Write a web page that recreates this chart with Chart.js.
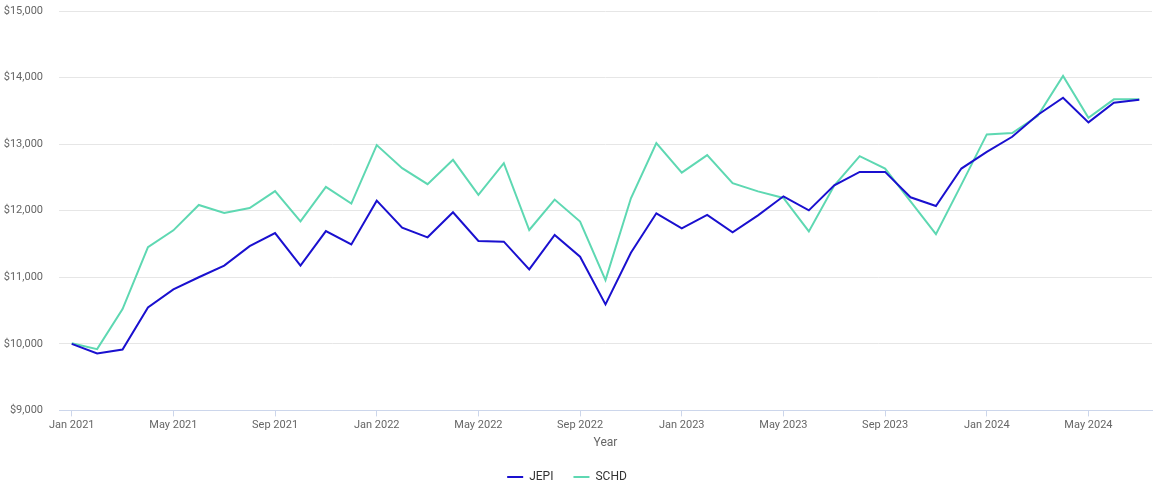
<!DOCTYPE html>
<html>
<head>
<meta charset="utf-8">
<script src="https://cdn.jsdelivr.net/npm/chart.js@4.4.1/dist/chart.umd.min.js"></script>
<style>
html,body{margin:0;padding:0;background:#fff;}
#wrap{width:1164px;height:493px;position:relative;}
</style>
</head>
<body>
<div id="wrap"><canvas id="c"></canvas></div>
<script>
const months = [
  "Jan 2021","Feb 2021","Mar 2021","Apr 2021","May 2021","Jun 2021","Jul 2021","Aug 2021","Sep 2021","Oct 2021","Nov 2021","Dec 2021",
  "Jan 2022","Feb 2022","Mar 2022","Apr 2022","May 2022","Jun 2022","Jul 2022","Aug 2022","Sep 2022","Oct 2022","Nov 2022","Dec 2022",
  "Jan 2023","Feb 2023","Mar 2023","Apr 2023","May 2023","Jun 2023","Jul 2023","Aug 2023","Sep 2023","Oct 2023","Nov 2023","Dec 2023",
  "Jan 2024","Feb 2024","Mar 2024","Apr 2024","May 2024","Jun 2024","Jul 2024"
];
const jepi = [
  10000, 9854, 9915, 10547, 10819, 11000, 11176, 11468, 11664, 11176, 11694, 11493,
  12151, 11746, 11600, 11976, 11545, 11535, 11118, 11635, 11309, 10592, 11369, 11961,
  11736, 11936, 11675, 11930, 12216, 12005, 12382, 12583, 12583, 12201, 12070, 12633,
  12884, 13111, 13437, 13698, 13327, 13623, 13668
];
const schd = [
  10010, 9920, 10523, 11453, 11705, 12086, 11965, 12041, 12293, 11840, 12357, 12107,
  12986, 12639, 12398, 12764, 12237, 12714, 11710, 12167, 11836, 10958, 12187, 13015,
  12573, 12834, 12413, 12290, 12191, 11688, 12377, 12819, 12633, 12141, 11648, 12392,
  13146, 13166, 13422, 14025, 13397, 13673, 13673
];
const yTicks = { min: 9000, max: 15000, step: 1000 };
const xTitle = "Year";

const fontFamily = "Roboto, 'Noto Sans', Arial, sans-serif";

const legendShift = {
  id: 'legendShift',
  afterLayout(chart) {
    if (chart.legend) { chart.legend.left -= 11; chart.legend.right -= 11; }
  }
};

new Chart(document.getElementById('c'), {
  type: 'line',
  plugins: [legendShift],
  data: {
    labels: months,
    datasets: [
      { label: 'JEPI', data: jepi, borderColor: '#1a10cf', backgroundColor: '#1a10cf', borderWidth: 2, pointRadius: 0, tension: 0 },
      { label: 'SCHD', data: schd, borderColor: '#5ed8b2', backgroundColor: '#5ed8b2', borderWidth: 2, pointRadius: 0, tension: 0 }
    ]
  },
  options: {
    responsive: true,
    maintainAspectRatio: false,
    animation: false,
    layout: { padding: { left: 4, right: 12, top: 4, bottom: 0 } },
    plugins: {
      tooltip: { enabled: false },
      legend: {
        position: 'bottom',
        labels: {
          usePointStyle: true,
          pointStyle: 'line',
          pointStyleWidth: 16,
          boxHeight: 3,
          padding: 20,
          color: '#333333',
          font: { family: fontFamily, size: 12 }
        }
      }
    },
    scales: {
      x: {
        type: 'category',
        offset: true,
        grid: {
          offset: false,
          drawOnChartArea: false,
          drawTicks: true,
          tickLength: 6,
          color: '#ccd6eb'
        },
        border: { display: true, color: '#ccd6eb' },
        ticks: {
          autoSkip: false,
          maxRotation: 0,
          minRotation: 0,
          padding: 2,
          color: '#666666',
          font: { family: fontFamily, size: 11 },
          callback: function(v, i) { return i % 4 === 0 ? months[i] : null; }
        },
        title: {
          display: true,
          text: xTitle,
          color: '#666666',
          font: { family: fontFamily, size: 12 },
          padding: { top: 2, bottom: 1 }
        }
      },
      y: {
        min: yTicks.min,
        max: yTicks.max,
        afterFit: function(scale) { scale.width = 55; scale.paddingTop = 11; scale.paddingBottom = 7; },
        grid: { color: '#e6e6e6', drawTicks: false },
        border: { display: false },
        ticks: {
          stepSize: yTicks.step,
          padding: 16,
          color: '#666666',
          font: { family: fontFamily, size: 11 },
          callback: function(v) { return '$' + v.toLocaleString('en-US'); }
        }
      }
    }
  }
});
</script>
</body>
</html>
